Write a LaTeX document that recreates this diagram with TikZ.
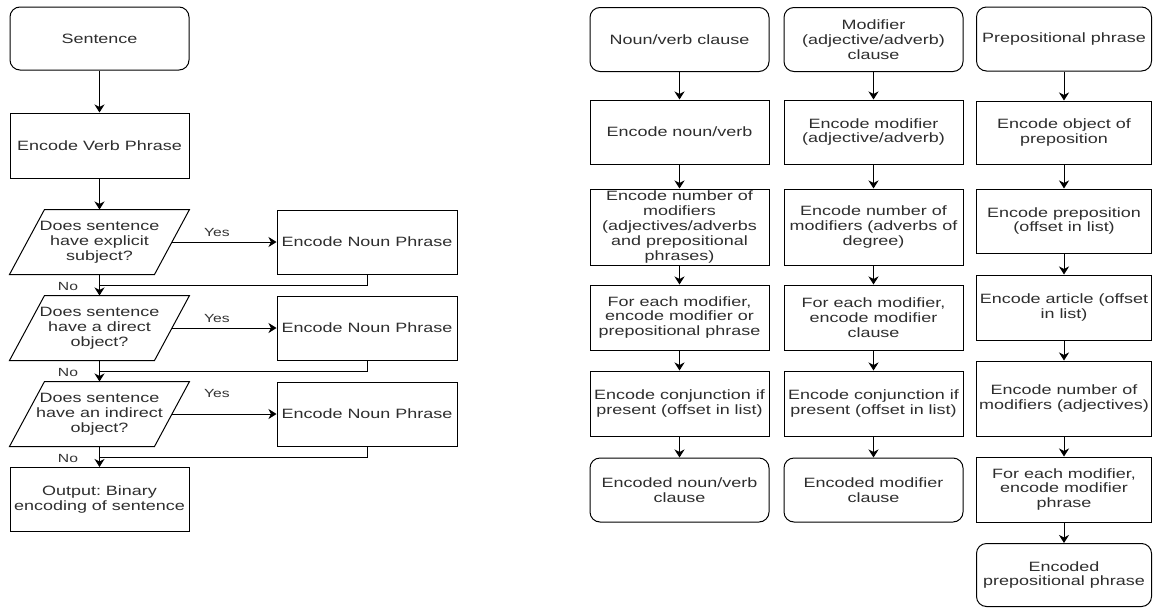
\documentclass[tikz,border=0pt]{standalone}
\usepackage{fontspec}
\setmainfont[FakeStretch=1.33]{Liberation Sans}
\frenchspacing
\usetikzlibrary{arrows.meta,calc}
\begin{document}
\begin{tikzpicture}[x=1pt,y=-1pt,
  box/.style={draw=black, line width=1pt, minimum width=179pt, inner sep=1pt, align=center, text=black!82,
    font=\fontsize{13.5}{14.8}\selectfont},
  rbox/.style={box, rounded corners=10pt},
  qbox/.style={box, draw=none},
  arr/.style={draw=black, line width=1pt, -{Stealth[length=8pt,width=10pt,inset=2.5pt]}},
  ln/.style={draw=black, line width=1pt},
  lab/.style={text=black!80, font=\fontsize{11.8}{13}\selectfont, inner sep=0pt}]
\useasboundingbox (0,0) rectangle (1153,608);
\fill[white] (0,0) rectangle (1153,608);
% ---------- left flow ----------
\node[rbox, minimum height=63pt] (s0) at (99.5,38.5) {Sentence};
\node[box, minimum height=65pt] (vp) at (99.5,145.5) {Encode Verb Phrase};
\node[qbox, minimum height=64pt] (q1) at (99.5,242) {Does sentence\\have explicit\\subject?};
\node[qbox, minimum height=64pt] (q2) at (99.5,328) {Does sentence\\have a direct\\object?};
\node[qbox, minimum height=64pt] (q3) at (99.5,414) {Does sentence\\have an indirect\\object?};
\foreach \q in {q1,q2,q3}{
  \draw[ln] (\q.south west) -- ([xshift=35pt]\q.north west) -- (\q.north east) -- ([xshift=-35pt]\q.south east) -- cycle;
}
\node[box, minimum width=180pt, minimum height=64pt] (np1) at (367,242) {Encode Noun Phrase};
\node[box, minimum width=180pt, minimum height=64pt] (np2) at (367,328) {Encode Noun Phrase};
\node[box, minimum width=180pt, minimum height=64pt] (np3) at (367,414) {Encode Noun Phrase};
\node[box, minimum height=64pt] (out) at (99.5,499.5) {Output: Binary\\encoding of sentence};
\coordinate (m1) at (99.5,285);
\coordinate (m2) at (99.5,371);
\coordinate (m3) at (99.5,457);
\draw[arr] (s0) -- (vp);
\draw[arr] (vp) -- (q1);
\draw[arr] (q1) -- (q2);
\draw[arr] (q2) -- (q3);
\draw[arr] (q3) -- (out);
\draw[arr] ([xshift=-17.5pt]q1.east) -- (np1);
\draw[arr] ([xshift=-17.5pt]q2.east) -- (np2);
\draw[arr] ([xshift=-17.5pt]q3.east) -- (np3);
\draw[ln] (np1.south) |- (m1);
\draw[ln] (np2.south) |- (m2);
\draw[ln] (np3.south) |- (m3);
\node[lab] (y1) at (217,232) {Yes};
\node[lab] (y2) at (217,318) {Yes};
\node[lab] (y3) at (217,393) {Yes};
\node[lab] (n1) at (68,286) {No};
\node[lab] (n2) at (68,372) {No};
\node[lab] (n3) at (68,458) {No};
% ---------- column 1 ----------
\node[rbox, minimum height=64pt] (a1) at (679.5,39.5) {Noun/verb clause};
\node[box, minimum height=64pt] (a2) at (679.5,132) {Encode noun/verb};
\node[box, minimum height=76pt] (a3) at (679.5,227) {Encode number of\\modifiers\\(adjectives/adverbs\\and prepositional\\phrases)};
\node[box, minimum height=65pt] (a4) at (679.5,317.5) {For each modifier,\\encode modifier or\\prepositional phrase};
\node[box, minimum height=65pt] (a5) at (679.5,403.5) {Encode conjunction if\\present (offset in list)};
\node[rbox, minimum height=64pt] (a6) at (679.5,490) {Encoded noun/verb\\clause};
\draw[arr] (a1) -- (a2);
\draw[arr] (a2) -- (a3);
\draw[arr] (a3) -- (a4);
\draw[arr] (a4) -- (a5);
\draw[arr] (a5) -- (a6);
% ---------- column 2 ----------
\node[rbox, minimum height=64pt] (b1) at (873.5,39.5) {Modifier\\(adjective/adverb)\\clause};
\node[box, minimum height=64pt] (b2) at (873.5,132) {Encode modifier\\(adjective/adverb)};
\node[box, minimum height=76pt] (b3) at (873.5,227) {Encode number of\\modifiers (adverbs of\\degree)};
\node[box, minimum height=65pt] (b4) at (873.5,317.5) {For each modifier,\\encode modifier\\clause};
\node[box, minimum height=65pt] (b5) at (873.5,403.5) {Encode conjunction if\\present (offset in list)};
\node[rbox, minimum height=64pt] (b6) at (873.5,490) {Encoded modifier\\clause};
\draw[arr] (b1) -- (b2);
\draw[arr] (b2) -- (b3);
\draw[arr] (b3) -- (b4);
\draw[arr] (b4) -- (b5);
\draw[arr] (b5) -- (b6);
% ---------- column 3 ----------
\node[rbox, minimum width=175pt, minimum height=64pt] (c1) at (1064,39) {Prepositional phrase};
\node[box, minimum width=175pt, minimum height=63pt] (c2) at (1064,132.5) {Encode object of\\preposition};
\node[box, minimum width=175pt, minimum height=64pt] (c3) at (1064,221) {Encode preposition\\(offset in list)};
\node[box, minimum width=175pt, minimum height=65pt] (c4) at (1064,307.5) {Encode article (offset\\in list)};
\node[box, minimum width=175pt, minimum height=75pt] (c5) at (1064,398.5) {Encode number of\\modifiers (adjectives)};
\node[box, minimum width=175pt, minimum height=65pt] (c6) at (1064,489.5) {For each modifier,\\encode modifier\\phrase};
\node[rbox, minimum width=175pt, minimum height=63pt] (c7) at (1064,575) {Encoded\\prepositional phrase};
\draw[arr] (c1) -- (c2);
\draw[arr] (c2) -- (c3);
\draw[arr] (c3) -- (c4);
\draw[arr] (c4) -- (c5);
\draw[arr] (c5) -- (c6);
\draw[arr] (c6) -- (c7);
\end{tikzpicture}
\end{document}
